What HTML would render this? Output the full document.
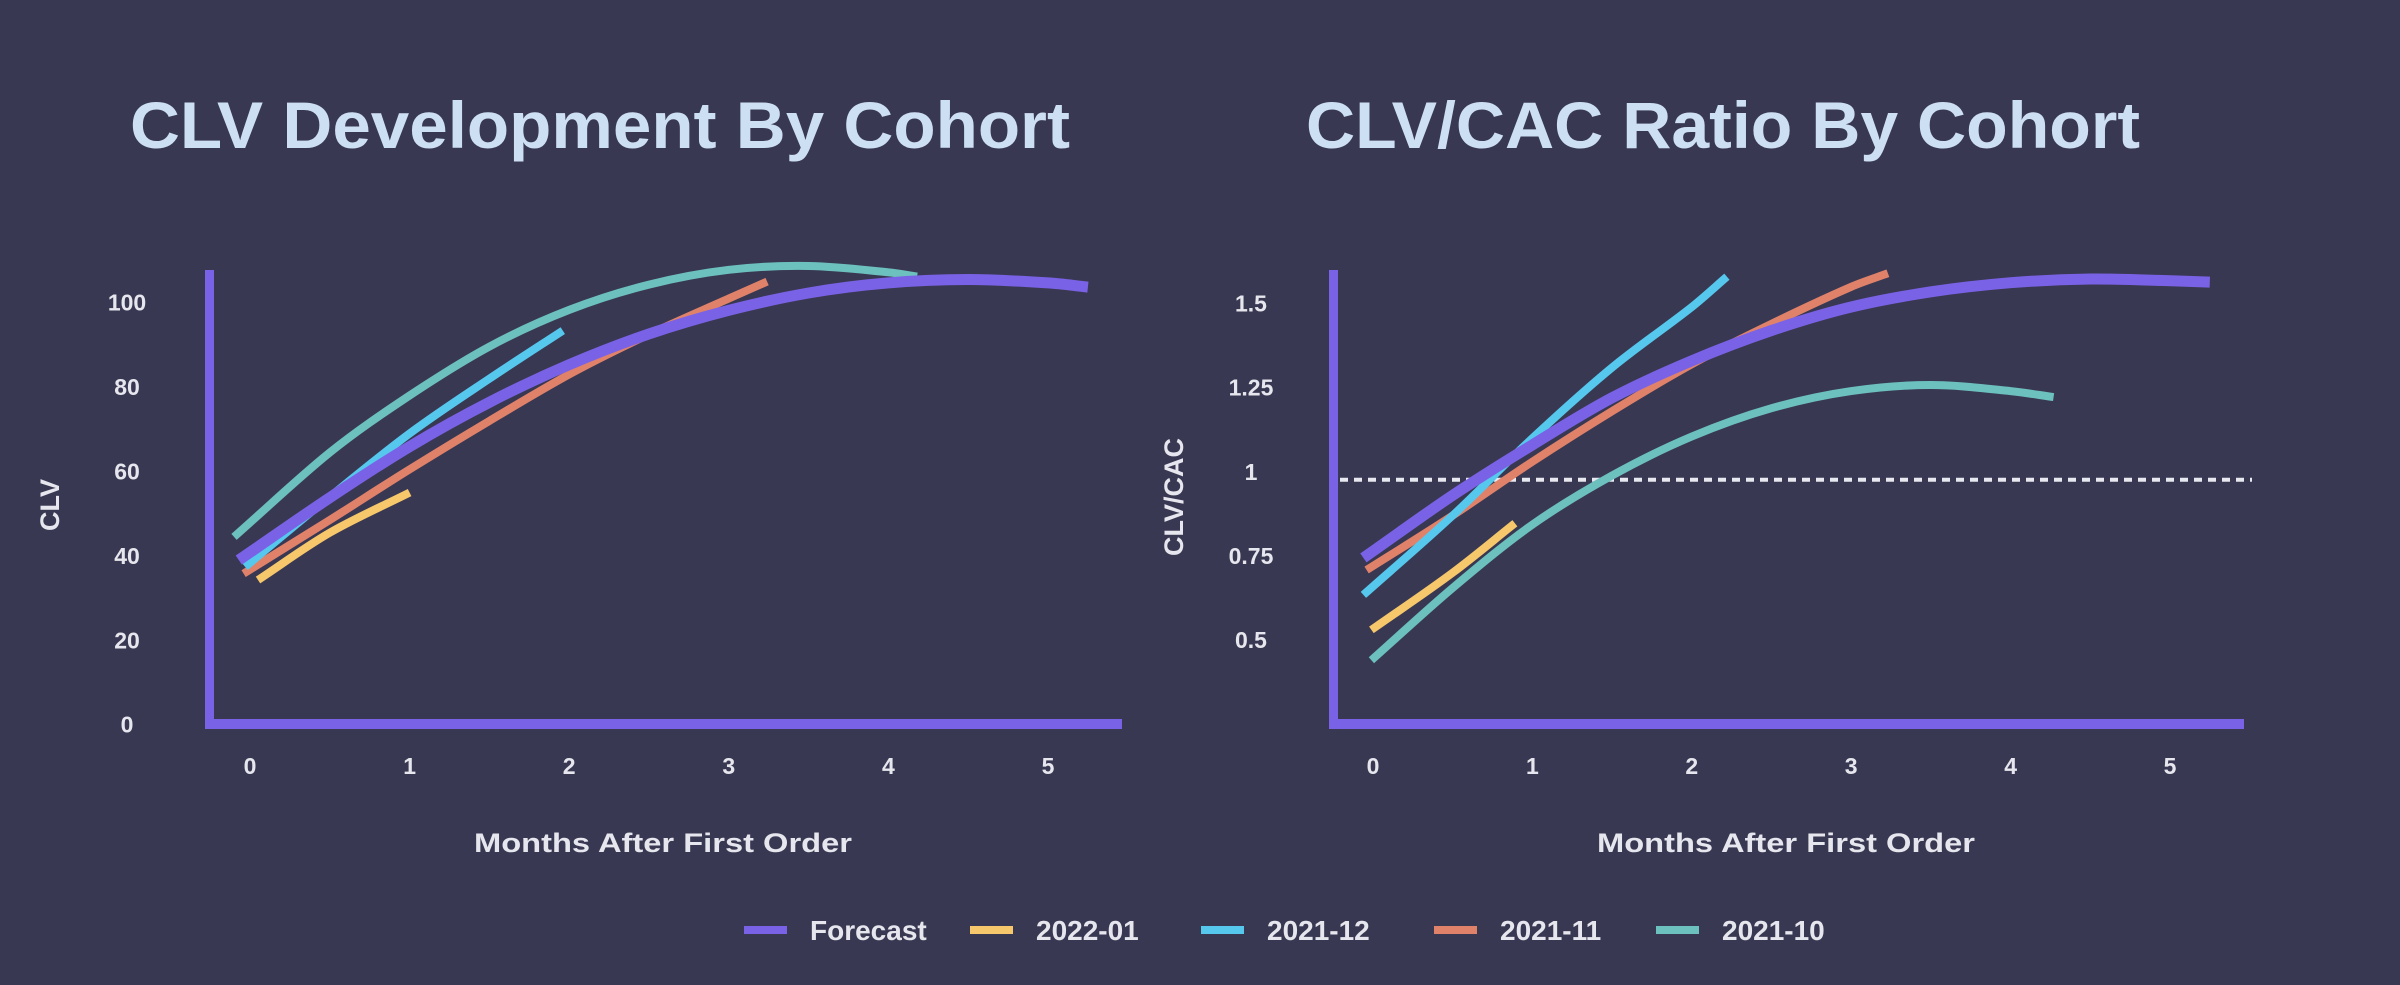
<!DOCTYPE html>
<html><head><meta charset="utf-8"><style>
html,body{margin:0;padding:0;background:#393852;}
svg{display:block;font-family:"Liberation Sans",sans-serif;font-weight:bold;}
</style></head><body>
<svg id="c" width="2400" height="985" viewBox="0 0 2400 985">
<rect width="2400" height="985" fill="#393852"/>
<text x="600" y="148" text-anchor="middle" font-size="66" fill="#cddff3" textLength="940" lengthAdjust="spacingAndGlyphs">CLV Development By Cohort</text>
<text x="1723" y="148" text-anchor="middle" font-size="66" fill="#cddff3" textLength="834" lengthAdjust="spacingAndGlyphs">CLV/CAC Ratio By Cohort</text>
<text x="663" y="852" text-anchor="middle" font-size="27" fill="#e6e6ee" textLength="378" lengthAdjust="spacingAndGlyphs">Months After First Order</text>
<text x="1786" y="852" text-anchor="middle" font-size="27" fill="#e6e6ee" textLength="378" lengthAdjust="spacingAndGlyphs">Months After First Order</text>
<text transform="translate(59,505) rotate(-90)" text-anchor="middle" font-size="27" fill="#e6e6ee">CLV</text>
<text transform="translate(1183,497) rotate(-90)" text-anchor="middle" font-size="27" fill="#e6e6ee">CLV/CAC</text>
<g id="left"></g>
<g id="right"></g>
<g id="legend"></g>
</svg>
<script>
// ---- data ----
const seriesNames = ["Forecast","2022-01","2021-12","2021-11","2021-10"];
const seriesColors = ["#7a62e6","#f6c76b","#56c8ee","#e0826a","#6cc0bd"];
const xTickLabels = ["0","1","2","3","4","5"];
const xTickValues = [0,1,2,3,4,5];
const clvTickValues = [0,20,40,60,80,100];
const ratioTickLabels = ["0.5","0.75","1","1.25","1.5"];
const ratioTickValues = [0.5,0.75,1,1.25,1.5];
const ratioReference = 1;

const clvForecastX = [-0.07,0.5,1,1.5,2,2.5,3,3.5,4,4.5,5,5.25];
const clvForecastY = [39,53.8,65.9,76.4,85.3,92.6,98.2,102.3,104.7,105.5,104.7,103.7];
const clv202201X = [0.05,0.5,1];
const clv202201Y = [34.3,45.5,55];
const clv202112X = [-0.03,0.5,1,1.5,1.96];
const clv202112Y = [37.4,54,69,82,93.4];
const clv202111X = [-0.04,0.5,1,1.5,2,2.5,3,3.24];
const clv202111Y = [35.8,48.5,60.5,72,83,92.5,101,105];
const clv202110X = [-0.1,0.5,1,1.5,2,2.5,3,3.5,4,4.18];
const clv202110Y = [44.5,64.5,78,89.6,98.3,104.3,107.8,108.7,107.2,106.2];

const ratioForecastX = [-0.06,0.5,1,1.5,2,2.5,3,3.5,4,4.5,5,5.25];
const ratioForecastY = [0.744,0.93,1.08,1.22,1.33,1.42,1.49,1.535,1.562,1.573,1.568,1.564];
const ratio202201X = [-0.01,0.5,0.89];
const ratio202201Y = [0.53,0.70,0.847];
const ratio202112X = [-0.06,0.5,1,1.5,2,2.22];
const ratio202112Y = [0.634,0.87,1.10,1.31,1.49,1.58];
const ratio202111X = [-0.04,0.5,1,1.5,2,2.5,3,3.23];
const ratio202111Y = [0.708,0.87,1.03,1.18,1.32,1.44,1.55,1.59];
const ratio202110X = [-0.01,0.5,1,1.5,2,2.5,3,3.5,4,4.27];
const ratio202110Y = [0.44,0.655,0.843,0.989,1.105,1.189,1.24,1.258,1.24,1.222];

// ---- scales ----
const lx = v => 250 + v*159.6;
const ly = v => 724.7 - v*4.22;
const rx = v => 1373 + v*159.4;
const ry = v => 471.8 - (v-1)*336.4;

const NS="http://www.w3.org/2000/svg";
function mk(tag, attrs, parent){const e=document.createElementNS(NS,tag);for(const k in attrs)e.setAttribute(k,attrs[k]);parent.appendChild(e);return e;}
function smooth(pts){
  const n=pts.length, m=[];
  for(let i=0;i<n;i++){
    const a=pts[Math.max(0,i-1)], b=pts[Math.min(n-1,i+1)];
    m.push((b[1]-a[1])/(b[0]-a[0]));
  }
  let d="M"+pts[0][0].toFixed(1)+","+pts[0][1].toFixed(1);
  for(let i=0;i<n-1;i++){
    const p1=pts[i],p2=pts[i+1],dx=(p2[0]-p1[0])/3;
    d+=" C"+(p1[0]+dx).toFixed(1)+","+(p1[1]+m[i]*dx).toFixed(1)+" "+(p2[0]-dx).toFixed(1)+","+(p2[1]-m[i+1]*dx).toFixed(1)+" "+p2[0].toFixed(1)+","+p2[1].toFixed(1);
  }
  return d;
}
function drawChart(g, sx, sy, axisX, axisEnd, xs, ys, yTicks, yLabels, key){
  const ax=mk('rect',{x:axisX-5,y:270,width:9,height:458,fill:'#7a62e6'},g);
  
  
  const bx=mk('rect',{x:axisX-5,y:719,width:axisEnd-axisX+5,height:10,fill:'#7a62e6'},g);
  
  
  yTicks.forEach((v,i)=>{
    const t=mk('text',{x:axisX-83,y:sy(v)+8,'text-anchor':'middle','font-size':23,fill:'#e6e6ee'},g);
    t.textContent=yLabels[i];
    
    
  });
  xTickValues.forEach((v,i)=>{
    const t=mk('text',{x:sx(v),y:774,'text-anchor':'middle','font-size':23,fill:'#e6e6ee'},g);
    t.textContent=xTickLabels[i];
    
    
  });
  for(let s=xs.length-1;s>=0;s--){
    const pts=xs[s].map((x,i)=>[sx(x),sy(ys[s][i])]);
    const p=mk('path',{d:smooth(pts),fill:'none',stroke:seriesColors[s],'stroke-width':s===0?11:8},g);
    
    
  }
}
const L=document.getElementById('left'), R=document.getElementById('right');
drawChart(L,lx,ly,210,1122,
  [clvForecastX,clv202201X,clv202112X,clv202111X,clv202110X],
  [clvForecastY,clv202201Y,clv202112Y,clv202111Y,clv202110Y],
  clvTickValues, clvTickValues.map(String),'clv');
const ref=mk('line',{x1:1340,x2:2252,y1:ry(ratioReference)+8,y2:ry(ratioReference)+8,stroke:'#e8e8f0','stroke-width':4,'stroke-dasharray':'8 6'},R);


drawChart(R,rx,ry,1334,2244,
  [ratioForecastX,ratio202201X,ratio202112X,ratio202111X,ratio202110X],
  [ratioForecastY,ratio202201Y,ratio202112Y,ratio202111Y,ratio202110Y],
  ratioTickValues, ratioTickLabels,'ratio');
// legend
const legX=[744,970,1201,1434,1656];
const LG=document.getElementById('legend');
seriesNames.forEach((n,i)=>{
  const e=mk('g',{},LG);
  
  
  mk('rect',{x:legX[i],y:926,width:43,height:8,fill:seriesColors[i]},e);
  const t=mk('text',{x:legX[i]+66,y:940,'font-size':28,fill:'#e6e6ee'},e);
  t.textContent=n;
});
</script>
</body></html>
